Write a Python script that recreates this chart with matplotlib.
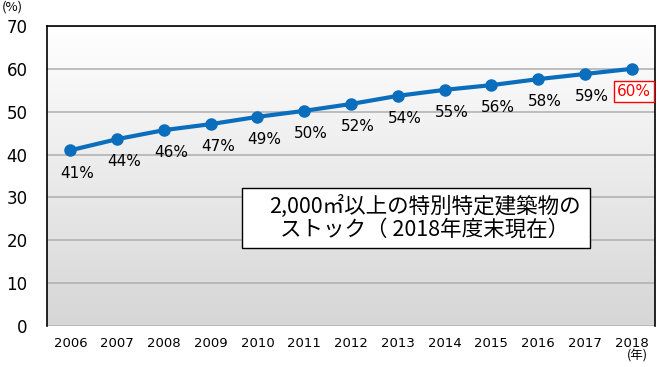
import numpy as np
import matplotlib.pyplot as plt
from matplotlib.colors import LinearSegmentedColormap
from matplotlib.patches import Rectangle

plt.rcParams['font.family'] = ['Noto Sans CJK JP', 'DejaVu Sans']

years = ['2006', '2007', '2008', '2009', '2010', '2011', '2012',
         '2013', '2014', '2015', '2016', '2017', '2018']
values = [41.0, 43.6, 45.7, 47.1, 48.8, 50.2, 51.8, 53.7, 55.1, 56.2, 57.6, 58.8, 60.0]
labels = ['41%', '44%', '46%', '47%', '49%', '50%', '52%',
          '54%', '55%', '56%', '58%', '59%', '60%']

fig = plt.figure(figsize=(6.6, 3.67), dpi=100)
ax = fig.add_axes([47/660, 1-326/367, 608/660, 300/367])

x = np.arange(len(years))

# background gradient, white at top to grey at bottom
cmap = LinearSegmentedColormap.from_list('bg', ['#ffffff', '#d6d6d6'])
grad = np.linspace(0, 1, 256).reshape(-1, 1)
ax.imshow(grad, aspect='auto', cmap=cmap, extent=(-0.5, 12.5, 0, 70), origin='upper', zorder=0)

ax.set_xlim(-0.5, 12.5)
ax.set_ylim(0, 70)
ax.set_yticks(range(0, 71, 10))
ax.grid(axis='y', color='#b3b3b3', linewidth=1.2, zorder=1)
ax.tick_params(axis='y', length=0, pad=14, labelsize=12)
ax.tick_params(axis='x', length=0, pad=8, labelsize=9.5)
ax.set_xticks(x)
ax.set_xticklabels(years, family='DejaVu Sans')
for lab in ax.get_yticklabels():
    lab.set_family('DejaVu Sans')

for s in ['left', 'top', 'right']:
    ax.spines[s].set_color('black')
    ax.spines[s].set_linewidth(1.2)
ax.spines['bottom'].set_visible(False)

ax.plot(x, values, color='#0a6ebd', linewidth=3, marker='o', markersize=8, zorder=3)

for i, (v, t) in enumerate(zip(values, labels)):
    if i == len(values) - 1:
        ax.text(i + 0.05, v - 5.3, t, ha='center', va='center', fontsize=11,
                color='#ff0000', family='DejaVu Sans', zorder=4, clip_on=False,
                bbox=dict(boxstyle='square,pad=0.2', fc='white', ec='#ff0000', lw=1))
    else:
        ax.text(i + 0.15, v - 5.3, t, ha='center', va='center', fontsize=11,
                color='black', family='DejaVu Sans', zorder=4)

# note box
ax.add_patch(Rectangle((3.67, 18.2), 7.44, 14.0, fc='white', ec='black', lw=1, zorder=4))
ax.text(7.58, 25.2, '2,000㎡以上の特別特定建築物の\nストック（ 2018年度末現在）',
        ha='center', va='center', fontsize=15.5, linespacing=1.05, zorder=5)

fig.text(12/660, 1-7/367, '(%)', ha='center', va='center', fontsize=9.5)
fig.text(637/660, 1-356/367, '(年)', ha='center', va='center', fontsize=9)

fig.savefig('out.png', dpi=100)
